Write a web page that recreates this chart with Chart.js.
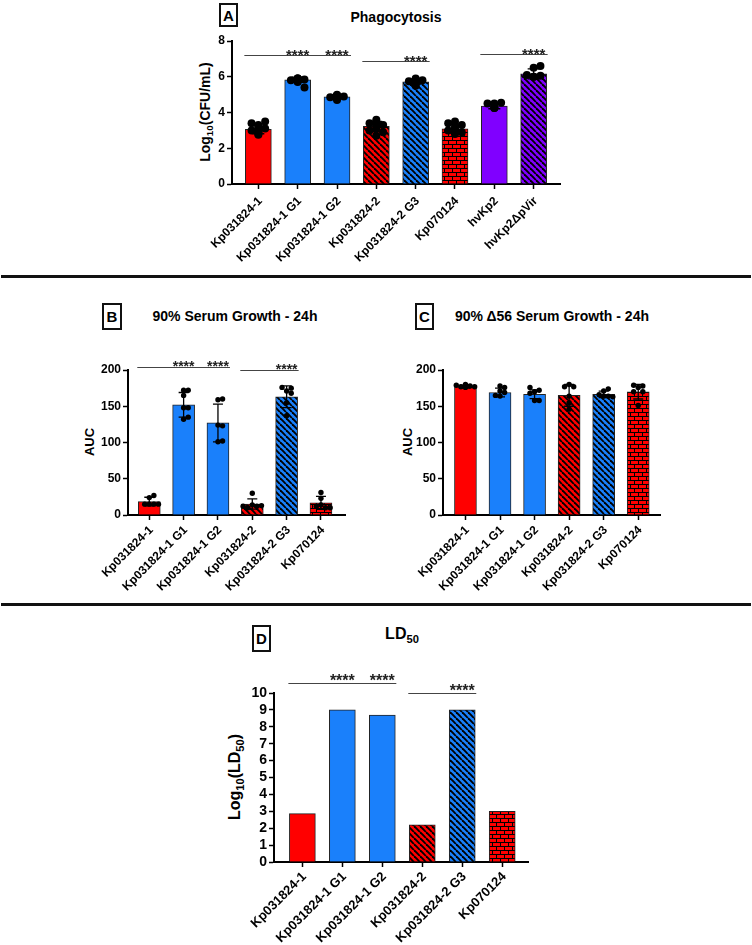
<!DOCTYPE html>
<html>
<head>
<meta charset="utf-8">
<script src="https://cdn.jsdelivr.net/npm/chart.js@4.4.1/dist/chart.umd.min.js"></script>
<style>
    body { margin: 0; background: #fff; width: 752px; height: 945px; position: relative; overflow: hidden;
           font-family: 'Liberation Sans', Arial, sans-serif; color: #000; }
    canvas { position: absolute; }
    .letter { position: absolute; border: 2px solid #111; box-sizing: border-box; font-weight: bold; font-size: 15px;
              display: flex; align-items: center; justify-content: center; }
    .title { position: absolute; font-weight: bold; font-size: 14px; white-space: nowrap; transform: translate(-50%, -50%); }
    .ytitle { position: absolute; font-weight: bold; white-space: nowrap; transform: translate(-50%, -50%) rotate(-90deg); }
    .sep { position: absolute; left: 1px; width: 750px; height: 3px; background: #111; }
    sub { font-size: 70%; vertical-align: baseline; position: relative; top: 0.35em; line-height: 0; }
</style>
</head>
<body>

<div class="letter" style="left:219px;top:3px;width:19px;height:24px">A</div>
<div class="title" style="left:396px;top:17px">Phagocytosis</div>
<div class="ytitle" style="left:205px;top:112px;font-size:14px">Log<sub>10</sub>(CFU/mL)</div>
<canvas id="chartA"></canvas>

<div class="sep" style="top:275px"></div>

<div class="letter" style="left:102px;top:303px;width:20px;height:27px">B</div>
<div class="title" style="left:235px;top:316px">90% Serum Growth - 24h</div>
<div class="ytitle" style="left:89px;top:442px;font-size:13px">AUC</div>
<canvas id="chartB"></canvas>

<div class="letter" style="left:415px;top:303px;width:19px;height:27px">C</div>
<div class="title" style="left:552px;top:316px">90% Δ56 Serum Growth - 24h</div>
<div class="ytitle" style="left:407px;top:442px;font-size:13px">AUC</div>
<canvas id="chartC"></canvas>

<div class="sep" style="top:603px"></div>

<div class="letter" style="left:252px;top:625px;width:19px;height:27px">D</div>
<div class="title" style="left:402px;top:634px;font-size:16px">LD<sub>50</sub></div>
<div class="ytitle" style="left:235px;top:777px;font-size:16px">Log<sub>10</sub>(LD<sub>50</sub>)</div>
<canvas id="chartD"></canvas>

<script>
// ---- data ----

// A: Phagocytosis, Log10(CFU/mL)
const labelsA = ['Kp031824-1', 'Kp031824-1 G1', 'Kp031824-1 G2', 'Kp031824-2', 'Kp031824-2 G3', 'Kp070124', 'hvKp2', 'hvKp2\u0394pVir'];
const meanA = [3.06, 5.83, 4.88, 3.22, 5.72, 3.09, 4.36, 6.16];
const sdA = [0.25, 0.15, 0.10, 0.28, 0.13, 0.22, 0.15, 0.28];
const dotsA = [
    [3.2, 3.1, 3.0, 2.9, 3.3, 3.5, 3.4, 3.0, 2.8, 2.75, 3.1, 2.9],
    [5.9, 5.85, 5.8, 5.9, 5.75, 5.4, 5.7, 5.85, 5.9, 5.85],
    [4.95, 4.9, 4.85, 4.8, 4.9, 4.95, 5.0, 4.7, 4.8, 4.85, 4.9],
    [3.6, 3.3, 3.2, 3.4, 2.9, 2.7, 3.1, 3.5, 3.0, 3.3],
    [5.9, 5.8, 5.75, 5.7, 5.85, 5.6, 5.5, 5.8, 5.65, 5.7],
    [3.2, 3.3, 2.8, 3.4, 2.9, 3.5, 3.0, 3.1, 2.9, 3.0],
    [4.5, 4.55, 4.5, 4.25, 4.3, 4.25],
    [6.5, 6.6, 6.0, 6.05, 6.1, 6.0]
];
const ticksA = [0, 2, 4, 6, 8];
// [from bar, to bar, level, bars with ****]
const sigA = [[0, 2, 7.2, [1, 2]], [3, 4, 6.88, [4]], [6, 7, 7.3, [7]]];

// B: 90% Serum Growth - 24h, AUC
const labelsBCD = ['Kp031824-1', 'Kp031824-1 G1', 'Kp031824-1 G2', 'Kp031824-2', 'Kp031824-2 G3', 'Kp070124'];
const meanB = [18.5, 152, 127, 15.2, 163, 16.7];
const sdB = [6, 17, 26, 7, 15, 9];
const dotsB = [
    [24, 27, 15, 15, 15, 15],
    [172, 172, 165, 148, 148, 132, 135],
    [159, 160, 124, 123, 101, 102],
    [30, 14, 12, 10, 13, 12],
    [171, 175, 155, 137, 176, 168],
    [31, 23, 14, 10, 12, 10]
];
const ticksBC = [0, 50, 100, 150, 200];
const sigB = [[0, 2, 204.5, [1, 2]], [3, 4, 200, [4]]];

// C: 90% Δ56 Serum Growth - 24h, AUC
const meanC = [177, 169, 166.5, 165, 166.5, 170];
const sdC = [2, 6, 6, 15, 4.5, 10];
const dotsC = [
    [176, 178, 177, 177, 179, 180],
    [178, 164, 171, 169, 165, 176],
    [170, 158, 172, 158, 168, 176],
    [180, 164, 155, 146, 177, 177],
    [171, 164, 174, 164, 166, 163],
    [176, 170, 178, 151, 179, 170]
];

// D: LD50, Log10(LD50)
const meanD = [2.86, 9.0, 8.7, 2.2, 9.0, 3.0];
const ticksD = [0, 1, 2, 3, 4, 5, 6, 7, 8, 9, 10];
const sigD = [[0, 2, 10.6, [1, 2]], [3, 4, 10.0, [4]]];

// ---- fills ----
const styleA = ['red', 'blue', 'blue', 'redStripe', 'blueStripe', 'redBrick', 'purple', 'purpleStripe'];
const styleBCD = ['red', 'blue', 'blue', 'redStripe', 'blueStripe', 'redBrick'];
const colors = { red: '#ff0000', blue: '#1a80fb', purple: '#8000ff' };

function stripes(ctx, color) {
    const c = document.createElement('canvas');
    const s = 6;
    c.width = s; c.height = s;
    const g = c.getContext('2d');
    g.fillStyle = color;
    g.fillRect(0, 0, s, s);
    g.strokeStyle = '#000';
    g.lineWidth = 1.9;
    for (const o of [-s, 0, s]) {
        g.beginPath(); g.moveTo(o, 0); g.lineTo(o + s, s); g.stroke();
    }
    return ctx.createPattern(c, 'repeat');
}

function bricks(ctx, color) {
    const c = document.createElement('canvas');
    c.width = 8; c.height = 8;
    const g = c.getContext('2d');
    g.fillStyle = color;
    g.fillRect(0, 0, 8, 8);
    g.fillStyle = '#000';
    g.fillRect(0, 0, 8, 1);
    g.fillRect(0, 4, 8, 1);
    g.fillRect(0, 0, 1, 4);
    g.fillRect(4, 4, 1, 4);
    return ctx.createPattern(c, 'repeat');
}

function fillFor(ctx, key) {
    if (key.endsWith('Stripe')) return stripes(ctx, colors[key.replace('Stripe', '')]);
    if (key.endsWith('Brick')) return bricks(ctx, colors[key.replace('Brick', '')]);
    return colors[key];
}

const FONT = "'Liberation Sans', Arial, sans-serif";

// simple beeswarm: push a dot sideways until it stops overlapping the ones already placed
function swarm(group, i, pxX, pxY, r, maxOff) {
    const placed = [];
    return group.map(v => {
        let off = 0;
        for (let k = 0; k < 20; k++) {
            const cand = (k % 2 ? 1 : -1) * Math.ceil(k / 2) * r * 1.7;
            if (Math.abs(cand) > maxOff) break;
            const clash = placed.some(p => Math.hypot(p.dx - cand, (p.v - v) * pxY) < r * 1.7);
            if (!clash) { off = cand; break; }
        }
        placed.push({ dx: off, v });
        return { x: i + off / pxX, y: v };
    });
}

// one panel = one chart on its own canvas
function drawPanel(id, lay, labels, means, sds, dots, ticks, styles, sig, look) {
    const cv = document.getElementById(id);
    cv.width = lay.w; cv.height = lay.h;
    cv.style.left = lay.x + 'px';
    cv.style.top = lay.y + 'px';
    const ctx = cv.getContext('2d');

    const yMin = ticks[0], yMax = ticks[ticks.length - 1];
    const pxX = (lay.w - lay.padL - 30 - lay.padR) / (lay.xMax - lay.xMin);
    const pxY = (lay.h - lay.padT - lay.xH) / (yMax - yMin);

    const datasets = [{
        type: 'bar',
        data: means.map((v, i) => ({ x: i, y: v })),
        backgroundColor: styles.map(s => fillFor(ctx, s)),
        borderColor: '#222',
        borderWidth: 1,
        barThickness: look.barW,
        order: 2
    }];

    if (dots) {
        const pts = dots.flatMap((g, i) => swarm(g, i, pxX, pxY, look.dotR, look.barW / 2 - 1));
        datasets.push({
            type: 'scatter',
            data: pts,
            pointRadius: look.dotR,
            pointBackgroundColor: '#000',
            pointBorderWidth: 0,
            order: 1
        });
    }

    // error bars + significance lines
    const overlay = {
        id: 'overlay',
        afterDatasetsDraw(chart) {
            const c = chart.ctx, x = chart.scales.x, y = chart.scales.y;
            c.save();
            c.strokeStyle = '#000';
            c.lineWidth = 1.3;
            if (sds) sds.forEach((sd, i) => {
                const cx = x.getPixelForValue(i);
                const top = y.getPixelForValue(means[i] + sd);
                const bot = y.getPixelForValue(means[i] - sd);
                c.beginPath();
                c.moveTo(cx, top); c.lineTo(cx, bot);
                c.moveTo(cx - look.cap, top); c.lineTo(cx + look.cap, top);
                c.moveTo(cx - look.cap, bot); c.lineTo(cx + look.cap, bot);
                c.stroke();
            });
            c.strokeStyle = '#444';
            c.lineWidth = 1;
            c.fillStyle = '#222';
            c.font = 'bold ' + look.star + 'px ' + FONT;
            c.textAlign = 'center';
            c.textBaseline = 'alphabetic';
            sig.forEach(([a, b, lvl, stars]) => {
                const yy = Math.round(y.getPixelForValue(lvl)) + 0.5;
                c.beginPath();
                c.moveTo(x.getPixelForValue(a) - look.barW / 2 - 1, yy);
                c.lineTo(x.getPixelForValue(b) + look.barW / 2 + 1, yy);
                c.stroke();
                stars.forEach(s => c.fillText('****', x.getPixelForValue(s), yy - look.starGap + 0.58 * look.star));
            });
            c.restore();
        }
    };

    new Chart(ctx, {
        type: 'bar',
        data: { datasets },
        plugins: [overlay],
        options: {
            responsive: false,
            animation: false,
            layout: { padding: { left: lay.padL, right: lay.padR, top: lay.padT, bottom: 0 } },
            plugins: { legend: { display: false }, tooltip: { enabled: false } },
            scales: {
                x: {
                    type: 'linear',
                    bounds: 'data',
                    offset: false,
                    min: lay.xMin,
                    max: lay.xMax,
                    // one tick per bar, labelled with the category name
                    afterBuildTicks: s => { s.ticks = labels.map((_, i) => ({ value: i })); },
                    afterFit: s => { s.height = lay.xH; },
                    border: { display: true, color: '#000', width: 2 },
                    grid: { display: true, offset: false, drawOnChartArea: false, drawTicks: true, tickLength: 5, tickColor: '#000', tickWidth: 1.5 },
                    ticks: {
                        autoSkip: false,
                        maxRotation: 45,
                        minRotation: 45,
                        padding: look.xPad,
                        labelOffset: 2,
                        color: '#000',
                        font: { family: FONT, weight: 'bold', size: look.xFont },
                        callback: v => labels[v] ?? ''
                    }
                },
                y: {
                    min: yMin,
                    max: yMax,
                    afterFit: s => { s.width = 30; },
                    border: { display: true, color: '#000', width: 2 },
                    grid: { display: true, drawOnChartArea: false, drawTicks: true, tickLength: 5, tickColor: '#000', tickWidth: 1.5 },
                    ticks: {
                        stepSize: ticks[1] - ticks[0],
                        autoSkip: false,
                        padding: 2,
                        color: '#000',
                        font: { family: FONT, weight: 'bold', size: look.yFont }
                    }
                }
            }
        }
    });
}

drawPanel('chartA',
    { x: 140, y: 0, w: 460, h: 272, padL: 62, padR: 40, padT: 41, xH: 88, xMin: -0.67, xMax: 7.67 },
    labelsA, meanA, sdA, dotsA, ticksA, styleA, sigA,
    { barW: 26, dotR: 4, cap: 6, star: 15, starGap: 4.5, xFont: 12, yFont: 12, xPad: 5 });

drawPanel('chartB',
    { x: 40, y: 280, w: 330, h: 320, padL: 58, padR: 25, padT: 90, xH: 85, xMin: -0.62, xMax: 5.7 },
    labelsBCD, meanB, sdB, dotsB, ticksBC, styleBCD, sigB,
    { barW: 22, dotR: 2.7, cap: 5, star: 14, starGap: 5, xFont: 12, yFont: 12, xPad: 3 });

drawPanel('chartC',
    { x: 370, y: 280, w: 340, h: 320, padL: 43, padR: 50, padT: 90, xH: 85, xMin: -0.65, xMax: 5.63 },
    labelsBCD, meanC, sdC, dotsC, ticksBC, styleBCD, [],
    { barW: 22, dotR: 2.7, cap: 5, star: 14, starGap: 5, xFont: 12, yFont: 12, xPad: 3 });

drawPanel('chartD',
    { x: 180, y: 610, w: 380, h: 335, padL: 64, padR: 32, padT: 83, xH: 83, xMin: -0.71, xMax: 5.645 },
    labelsBCD, meanD, null, null, ticksD, styleBCD, sigD,
    { barW: 26, dotR: 0, cap: 0, star: 16, starGap: 7, xFont: 13, yFont: 14, xPad: 2 });
</script>
</body>
</html>
